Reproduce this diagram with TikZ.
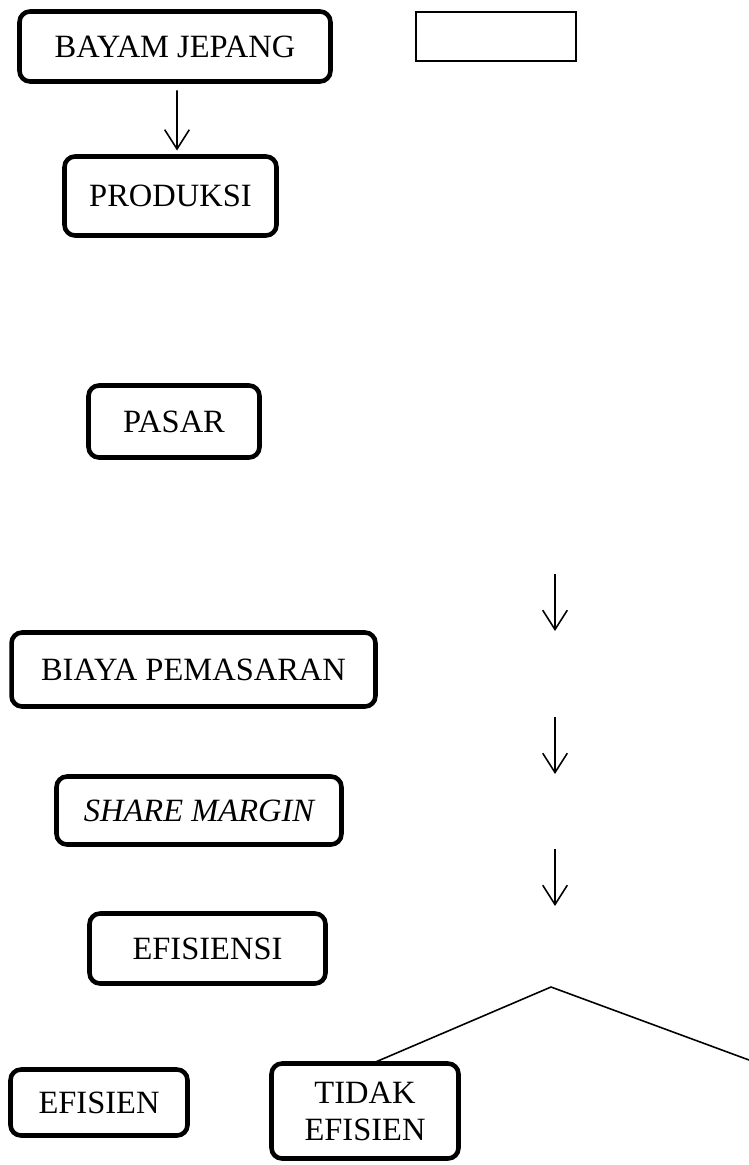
\documentclass[tikz,border=0pt]{standalone}
\usepackage{fontspec}
\setmainfont{Liberation Serif}
\usetikzlibrary{calc}
\usetikzlibrary{arrows.meta}

\begin{document}
\begin{tikzpicture}[x=0.02cm,y=-0.02cm,>={Straight Barb[length=11pt,width=14pt]},
    box/.style={draw,line width=2.6pt,rounded corners=6pt,align=center,
      font=\fontsize{18.5}{21}\selectfont,inner sep=0pt,outer sep=0pt},
    arr/.style={->,line width=0.9pt},
    thin/.style={line width=0.9pt}]
    \useasboundingbox (0,0) rectangle (749,1165);
    \node[box,minimum width=6.22cm,minimum height=1.40cm] (bayam) at (175,46.5) {BAYAM JEPANG};
    \node[draw,line width=1pt,minimum width=3.2cm,minimum height=0.98cm] (kosong) at (496,36.5) {};
    \node[box,minimum width=4.24cm,minimum height=1.58cm] (produksi) at (170.5,196) {PRODUKSI};
    \node[box,minimum width=3.42cm,minimum height=1.44cm] (pasar) at (174,421.5) {PASAR};
    \node[box,minimum width=7.28cm,minimum height=1.48cm] (biaya) at (193.5,669.5) {BIAYA PEMASARAN};
    \node[box,minimum width=5.70cm,minimum height=1.36cm] (share) at (199,810.5) {\itshape SHARE MARGIN};
    \node[box,minimum width=4.72cm,minimum height=1.40cm] (efisiensi) at (207.5,948.5) {EFISIENSI};
    \node[box,minimum width=3.54cm,minimum height=1.32cm] (efisien) at (99,1102.5) {EFISIEN};
    \node[box,minimum width=3.74cm,minimum height=1.90cm] (tidak) at (365,1111) {TIDAK\\EFISIEN};
    %
    \draw[arr] ($(bayam.south)+(2,9)$) -- ($(produksi.north)+(6.5,-6)$);
    %
    \foreach \i/\y in {1/574,2/717,3/849} {
      \coordinate (atas\i) at (555,\y);
      \coordinate (bawah\i) at (555,\y+57);
      \draw[arr] (atas\i) -- (bawah\i);
    }
    %
    \coordinate (puncak) at (551,987);
    \coordinate (tepi) at (749,1060);
    \draw[thin] ($(tidak.north)+(7,0)$) -- (puncak) -- (tepi);
\end{tikzpicture}
\end{document}
